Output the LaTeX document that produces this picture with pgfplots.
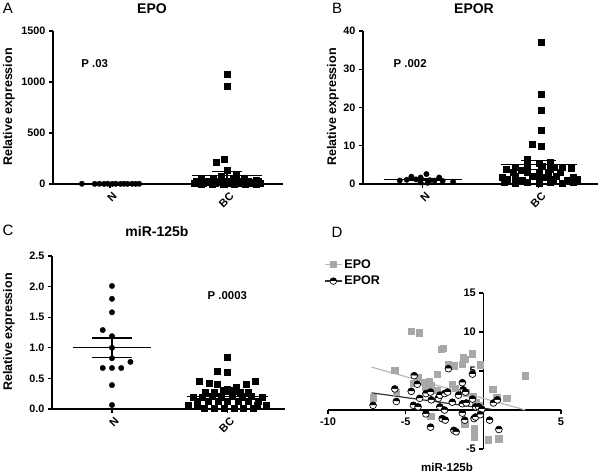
\documentclass[border=0pt]{standalone}
\usepackage{fontspec}
\setmainfont{Liberation Sans}
\usepackage{pgfplots}
\pgfplotsset{compat=1.18}
\usetikzlibrary{plotmarks}
\definecolor{epogray}{RGB}{168,168,168}
\definecolor{linegray}{RGB}{185,185,185}
\definecolor{lineblack}{RGB}{50,50,50}
\pgfplotsset{
  prism/.style={
    scale only axis, clip=false,
    axis lines=left,
    axis line style={-, line width=1.3pt},
    every outer x axis line/.append style={-},
    every outer y axis line/.append style={-},
    tick align=outside, major tick length=4pt,
    tick style={black, line width=1.1pt},
    xtick={0,1}, xticklabels={N,BC},
    xticklabel style={rotate=45, anchor=north east, font=\fontsize{11}{12}\selectfont\bfseries, inner sep=1pt, yshift=-3pt},
    yticklabel style={font=\fontsize{10.8}{12}\selectfont\bfseries},
    /pgf/number format/assume math mode=true,
  },
  nmark/.style={only marks, mark=*, mark size=2.7pt, black},
  bcmark/.style={only marks, mark=square*, mark size=3pt, black},
  meanl/.style={black, line width=1.2pt},
}
\begin{document}
\begin{tikzpicture}[x=1pt,y=1pt]
\path[use as bounding box] (0,0) rectangle (600,474);
% ---------------- Panel A
\begin{axis}[prism, at={(53pt,290pt)}, anchor=south west, width=230pt, height=153pt,
  xmin=-0.487, xmax=1.479, ymin=0, ymax=1500,
  ytick={0,500,1000,1500}, yticklabels={0,500,1000,1500}]
\addplot[nmark] coordinates {(-0.24,2)(-0.13,1)(-0.09,2)(-0.05,1)(-0.02,3)(0.02,1)(0.05,2)(0.09,1)(0.12,2)(0.15,1)(0.19,2)(0.22,1)(0.25,2)};
\addplot[bcmark] coordinates {(1.0,1080)(1.0,955)(0.98,240)(0.91,215)(1.0,140)(1.08,100)(0.95,80)
 (0.78,50)(0.88,45)(1.05,55)(1.15,48)(1.25,42)
 (0.74,30)(0.82,28)(0.92,32)(1.0,30)(1.08,27)(1.18,31)(1.27,29)
 (0.76,15)(0.85,14)(0.95,16)(1.04,15)(1.12,13)(1.22,15)
 (0.72,5)(0.8,4)(0.9,6)(1.0,5)(1.1,4)(1.2,6)(1.28,5)
 (0.78,0)(0.87,1)(0.97,0)(1.06,1)(1.16,0)(1.25,1)};
\addplot[meanl] coordinates {(-0.34,2)(0.34,2)};
\addplot[meanl] coordinates {(0.7,85)(1.3,85)};
\addplot[meanl] coordinates {(0.87,120)(1.13,120)};
\addplot[meanl] coordinates {(0.87,50)(1.13,50)};
\addplot[meanl] coordinates {(1,50)(1,120)};
\node[font=\fontsize{11.4}{12}\selectfont\bfseries] at (axis cs:-0.13,1176) {P .03};
\end{axis}
% ---------------- Panel B
\begin{axis}[prism, at={(363pt,290pt)}, anchor=south west, width=235pt, height=153pt,
  xmin=-0.517, xmax=1.51, ymin=0, ymax=40,
  ytick={0,10,20,30,40}, yticklabels={0,10,20,30,40}]
\addplot[nmark] coordinates {(-0.2,0.9)(-0.14,1.1)(-0.1,1.9)(-0.06,1.2)(-0.02,1.7)(0.03,2.6)(0.06,1.0)(0.1,0.9)(0.14,1.7)(0.17,0.8)(0.26,0.6)(-0.02,0.4)(0.04,0.3)};
\addplot[bcmark] coordinates {(1.02,37)(1.02,23.5)(1.02,19.3)(1.02,14.1)(0.94,10.5)(1.02,9.8)
 (0.9,6.5)
 (0.9,5.6)(1.0,5.4)(1.1,5.7)
 (0.8,4.5)(0.9,4.4)(1.03,4.6)(1.13,4.5)(1.2,4.3)
 (0.72,3.8)(0.85,3.6)(1.1,3.8)(1.28,4.0)
 (0.78,3.0)(0.9,3.1)(1.0,2.9)(1.08,3.2)(1.18,3.0)
 (0.68,1.9)(0.8,2.1)(0.94,2.0)(1.06,1.9)(1.15,2.1)(1.3,1.8)
 (0.73,1.2)(0.86,1.1)(1.0,1.3)(1.12,1.2)(1.24,1.0)(1.33,1.3)
 (0.7,0.4)(0.8,0.3)(0.9,0.5)(1.0,0.3)(1.1,0.4)(1.2,0.3)(1.3,0.5)};
\addplot[meanl] coordinates {(-0.34,1.1)(0.34,1.1)};
\addplot[meanl] coordinates {(-0.15,1.35)(0.15,1.35)};
\addplot[meanl] coordinates {(-0.15,0.85)(0.15,0.85)};
\addplot[meanl] coordinates {(0.67,5.0)(1.33,5.0)};
\addplot[meanl] coordinates {(0.85,6.2)(1.15,6.2)};
\addplot[meanl] coordinates {(0.85,3.8)(1.15,3.8)};
\addplot[meanl] coordinates {(1,3.8)(1,6.2)};
\node[font=\fontsize{11.4}{12}\selectfont\bfseries] at (axis cs:-0.11,31.4) {P .002};
\end{axis}
% ---------------- Panel C
\begin{axis}[prism, at={(52pt,65pt)}, anchor=south west, width=233pt, height=153pt,
  xmin=-0.52, xmax=1.5, ymin=0, ymax=2.5,
  ytick={0,0.5,1,1.5,2,2.5}, yticklabels={0.0,0.5,1.0,1.5,2.0,2.5}]
\addplot[nmark] coordinates {(0,2.01)(0,1.80)(0,1.58)(-0.08,1.29)(0,1.19)(0,1.0)(0,0.83)(0.16,0.77)(-0.08,0.67)(0,0.67)(0.08,0.67)(0,0.39)(0,0.065)};
\addplot[bcmark] coordinates {(0.76,0.46)(0.84,0.42)(0.91,0.40)(1.0,0.85)(0.91,0.62)(1.0,0.60)(1.08,0.36)(1.16,0.41)(1.24,0.46)
 (1.0,0.33)(0.96,0.30)(1.05,0.30)
 (0.81,0.27)(0.89,0.27)(1.11,0.27)(1.18,0.27)
 (0.7,0.2)(0.78,0.2)(0.87,0.21)(0.95,0.2)(1.04,0.21)(1.13,0.2)(1.21,0.21)(1.3,0.2)
 (0.74,0.12)(0.83,0.12)(0.92,0.13)(1.0,0.12)(1.09,0.13)(1.18,0.12)(1.27,0.12)
 (0.66,0.06)(0.74,0.06)(1.26,0.06)(1.34,0.06)
 (0.8,0.02)(0.89,0.02)(0.97,0.02)(1.06,0.02)(1.14,0.02)(1.22,0.02)};
\addplot[meanl] coordinates {(-0.34,1.0)(0.34,1.0)};
\addplot[meanl] coordinates {(-0.17,1.16)(0.17,1.16)};
\addplot[meanl] coordinates {(-0.17,0.84)(0.17,0.84)};
\addplot[meanl] coordinates {(0,0.84)(0,1.16)};
\addplot[meanl] coordinates {(0.65,0.21)(1.35,0.21)};
\addplot[meanl] coordinates {(0.85,0.245)(1.15,0.245)};
\addplot[meanl] coordinates {(0.85,0.175)(1.15,0.175)};
\node[font=\fontsize{11.4}{12}\selectfont\bfseries] at (axis cs:1,1.85) {P .0003};
\end{axis}
% ---------------- Panel D
\begin{axis}[scale only axis, clip=false, at={(328pt,25pt)}, anchor=south west, width=233pt, height=156pt,
  xmin=-10, xmax=5, ymin=-5, ymax=15,
  axis lines=middle,
  axis line style={-, line width=1.3pt},
  every inner x axis line/.append style={-},
  every inner y axis line/.append style={-},
  tick align=outside, major tick length=4pt,
  tick style={black, line width=1.1pt},
  xtick={-10,-5,5}, xticklabels={-10,-5,5},
  ytick={-5,5,10,15}, yticklabels={-5,5,10,15},
  ticklabel style={font=\fontsize{11}{12}\selectfont\bfseries},
  /pgf/number format/assume math mode=true,
  legend style={at={(axis description cs:-0.03,1.24)}, anchor=north west, draw=none, fill=none,
    font=\fontsize{12.5}{14}\selectfont\bfseries, row sep=2pt},
  legend cell align=left]
\addlegendimage{linegray, line width=1.2pt, mark=square*, mark size=3pt, mark options={fill=epogray, draw=epogray}}
\addlegendentry{EPO}
\addlegendimage{lineblack, line width=1.2pt, mark=halfcircle*, mark size=3.3pt, mark options={draw=black, fill=black, line width=0.7pt}}
\addlegendentry{EPOR}
\addplot[only marks, mark=square*, mark size=3.2pt, color=epogray, forget plot] coordinates {
 (-4.64,10.1)(-4.12,9.9)(-2.7,7.8)(-2.6,7.9)(-0.7,7.2)(-1.2,6.5)(-1.3,6.8)(-0.2,5.8)(-1.9,5.7)(-2.25,5.9)(-1.35,5.9)
 (-5.7,5.1)(-2.96,4.6)(-4.2,4.2)(-3.8,3.6)(-3.5,3.7)(-3.4,3.2)(-3.7,3.0)(-4.5,3.4)(-2.0,3.3)(-1.8,2.8)(-1.1,2.2)(-0.65,1.7)
 (0.6,2.7)(0.85,1.6)(1.5,1.5)(2.7,4.4)(-7.1,1.6)(-5.6,2.3)(-3.4,-0.8)(-1.2,-1.8)(-0.6,-2.4)(-0.6,-3.0)(-0.6,-3.5)
 (0.3,-3.8)(1.0,-3.7)(-0.3,0.6)(-0.2,0.2)(-3.0,2.5)(-0.5,1.0)};
\addplot[only marks, mark=halfcircle*, mark size=3.4pt, mark options={draw=black, fill=black, line width=0.7pt}, forget plot] coordinates {
 (-7.1,0.6)(-5.7,2.7)(-5.6,1.1)(-4.45,4.4)(-4.25,3.3)(-4.64,2.4)(-4.5,0.6)(-4.2,0.4)(-4.1,1.5)(-3.7,-0.5)(-3.7,2.1)
 (-3.4,2.3)(-3.35,1.3)(-3.4,-2.2)(-2.9,1.5)(-2.8,1.9)(-2.65,-1.1)(-2.8,0.4)(-2.5,0.0)(-2.45,-1.3)(-2.5,2.1)(-2.3,2.3)
 (-2.25,5.3)(-2.0,1.0)(-1.9,-2.6)(-1.75,-2.8)(-1.6,1.9)(-1.35,3.5)(-1.3,2.6)(-1.15,2.3)(-1.35,-0.4)(-1.35,0.8)(-1.1,0.9)
 (-1.2,-1.3)(-0.7,4.6)(-0.7,1.4)(-0.5,0.4)(-0.6,-1.1)(-0.5,-0.9)(-0.3,0.4)(-0.1,0.1)(-0.2,-0.6)(0.4,-1.3)(0.65,0.9)
 (0.9,1.3)(1.0,-2.5)};
\addplot[linegray, line width=1.2pt, forget plot] coordinates {(-7.2,5.5)(2.7,0.0)};
\addplot[lineblack, line width=1.2pt, forget plot] coordinates {(-7.2,2.2)(0.5,0.1)};
\end{axis}
% ---------------- labels
\node[font=\fontsize{15}{16}\selectfont] at (8,466) {A};
\node[font=\fontsize{15}{16}\selectfont] at (337,466) {B};
\node[font=\fontsize{15}{16}\selectfont] at (8,244) {C};
\node[font=\fontsize{15}{16}\selectfont] at (337,242) {D};
\node[font=\fontsize{14}{16}\selectfont\bfseries] at (152,465) {EPO};
\node[font=\fontsize{14}{16}\selectfont\bfseries] at (474,465) {EPOR};
\node[font=\fontsize{14}{16}\selectfont\bfseries] at (157,243) {miR-125b};
\node[font=\fontsize{12.5}{14}\selectfont\bfseries, rotate=90] at (9,367) {Relative expression};
\node[font=\fontsize{12.5}{14}\selectfont\bfseries, rotate=90] at (333,367) {Relative expression};
\node[font=\fontsize{12.5}{14}\selectfont\bfseries, rotate=90] at (9,142) {Relative expression};
\node[font=\fontsize{11.5}{14}\selectfont\bfseries] at (447,7) {miR-125b};
\end{tikzpicture}
\end{document}
